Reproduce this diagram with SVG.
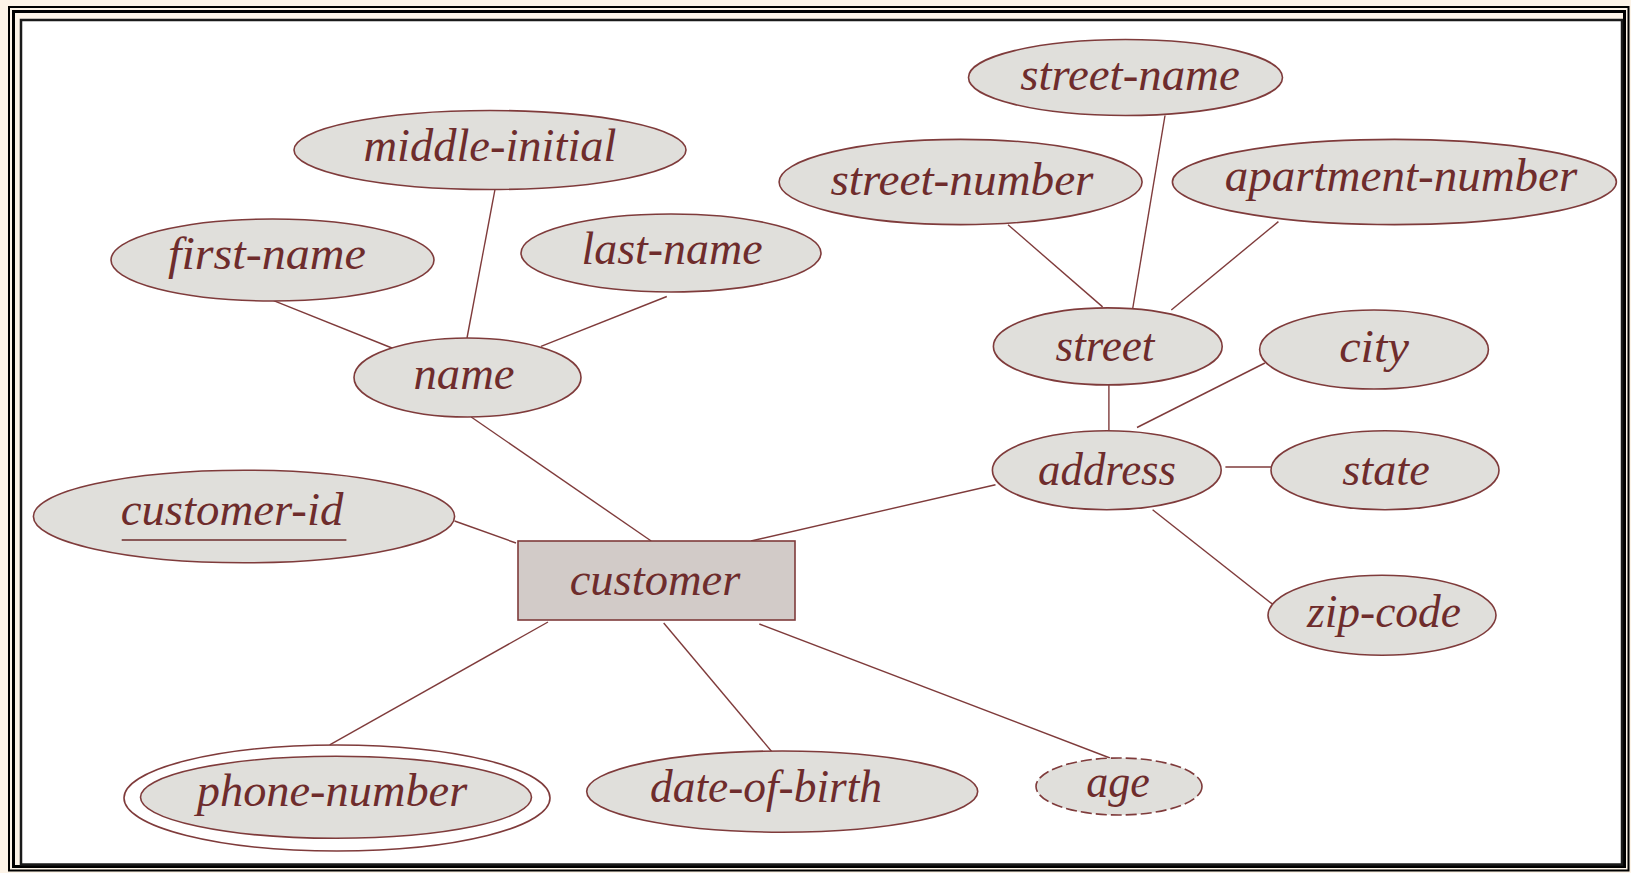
<svg xmlns="http://www.w3.org/2000/svg" width="1631" height="873" viewBox="0 0 1631 873">
<style>
.attr{fill:#e0dfdb;stroke:#7f3b3b;stroke-width:1.6}
.ent{fill:#d2cbc8;stroke:#7f3b3b;stroke-width:1.6}
.lbl{font-family:"Liberation Serif","Times New Roman",serif;font-style:italic;font-size:46px;fill:#6e2c2c;text-anchor:middle}
.conn line{stroke:#7f3b3b;stroke-width:1.4}
.frame{fill:none;stroke:#000}
</style>
<rect x="0" y="0" width="1631" height="873" fill="#fdf4e8"/>
<rect class="frame" x="9" y="7" width="1619.5" height="863.5" stroke-width="2"/>
<rect class="frame" x="13.5" y="11.5" width="1611" height="855" stroke-width="3"/>
<rect x="21" y="20" width="1601" height="844.5" fill="#ffffff" stroke="#1a1a1a" stroke-width="2.5"/>
<g class="conn" id="connectors">
<line x1="273.6" y1="300.6" x2="393.2" y2="348.5"/>
<line x1="495" y1="189.3" x2="467" y2="338"/>
<line x1="666.8" y1="296.5" x2="541" y2="346.4"/>
<line x1="471.2" y1="417" x2="651.2" y2="541"/>
<line x1="454.6" y1="521" x2="516" y2="543"/>
<line x1="751" y1="541" x2="995.5" y2="484.7"/>
<line x1="548" y1="622" x2="329.7" y2="744.8"/>
<line x1="663.7" y1="623" x2="772.9" y2="753"/>
<line x1="759.3" y1="624" x2="1110" y2="758"/>
<line x1="1008" y1="224.7" x2="1102.6" y2="306.9"/>
<line x1="1165" y1="115.5" x2="1132.8" y2="308"/>
<line x1="1278.4" y1="221.6" x2="1171.3" y2="310"/>
<line x1="1108.9" y1="385" x2="1108.9" y2="430.6"/>
<line x1="1264.9" y1="363" x2="1137" y2="427.5"/>
<line x1="1225.4" y1="467" x2="1271" y2="467"/>
<line x1="1152.6" y1="509.7" x2="1275.3" y2="606.4"/>
</g>
<g id="middle-initial"><ellipse class="attr" cx="490" cy="150" rx="196" ry="39.5"/><text class="lbl" x="490" y="161" textLength="253" lengthAdjust="spacingAndGlyphs">middle-initial</text></g>
<g id="first-name"><ellipse class="attr" cx="272.5" cy="260" rx="161.5" ry="41"/><text class="lbl" x="267" y="269" textLength="198" lengthAdjust="spacingAndGlyphs">first-name</text></g>
<g id="last-name"><ellipse class="attr" cx="671" cy="253" rx="150" ry="39"/><text class="lbl" x="672" y="264" textLength="181" lengthAdjust="spacingAndGlyphs">last-name</text></g>
<g id="name"><ellipse class="attr" cx="467.5" cy="377.5" rx="113.5" ry="39.5"/><text class="lbl" x="464" y="389" textLength="101" lengthAdjust="spacingAndGlyphs">name</text></g>
<g id="street-name"><ellipse class="attr" cx="1125.5" cy="77.5" rx="157" ry="38"/><text class="lbl" x="1130" y="89.5" textLength="219.5" lengthAdjust="spacingAndGlyphs">street-name</text></g>
<g id="street-number"><ellipse class="attr" cx="960.6" cy="182" rx="181.5" ry="42.6"/><text class="lbl" x="962" y="195" textLength="263" lengthAdjust="spacingAndGlyphs">street-number</text></g>
<g id="apartment-number"><ellipse class="attr" cx="1394.4" cy="182" rx="222" ry="42.6"/><text class="lbl" x="1401" y="191" textLength="352.6" lengthAdjust="spacingAndGlyphs">apartment-number</text></g>
<g id="street"><ellipse class="attr" cx="1107.8" cy="346.4" rx="114.4" ry="38.5"/><text class="lbl" x="1105" y="361" textLength="98.8" lengthAdjust="spacingAndGlyphs">street</text></g>
<g id="city"><ellipse class="attr" cx="1374" cy="349.5" rx="114.4" ry="39.5"/><text class="lbl" x="1374" y="362" textLength="69.7" lengthAdjust="spacingAndGlyphs">city</text></g>
<g id="address"><ellipse class="attr" cx="1106.8" cy="470.2" rx="114.4" ry="39.5"/><text class="lbl" x="1107" y="484.5" textLength="138" lengthAdjust="spacingAndGlyphs">address</text></g>
<g id="state"><ellipse class="attr" cx="1385" cy="470.2" rx="114" ry="39.5"/><text class="lbl" x="1386" y="484.5" textLength="87.4" lengthAdjust="spacingAndGlyphs">state</text></g>
<g id="zip-code"><ellipse class="attr" cx="1382" cy="615.3" rx="114" ry="40"/><text class="lbl" x="1384" y="627" textLength="154" lengthAdjust="spacingAndGlyphs">zip-code</text></g>
<g id="customer"><rect class="ent" x="518" y="541" width="277" height="79"/><text class="lbl" x="655" y="595" textLength="170.6" lengthAdjust="spacingAndGlyphs">customer</text></g>
<g id="customer-id"><ellipse class="attr" cx="244" cy="516.5" rx="210.6" ry="46.3"/><text class="lbl" x="232" y="525" textLength="222.6" lengthAdjust="spacingAndGlyphs">customer-id</text><line x1="121.7" y1="540" x2="346.4" y2="540" stroke="#6e2c2c" stroke-width="1.6"/></g>
<g id="phone-number"><ellipse cx="337" cy="798" rx="213" ry="53" fill="none" stroke="#7f3b3b" stroke-width="1.6"/><ellipse class="attr" cx="336" cy="797.3" rx="195.5" ry="41"/><text class="lbl" x="332" y="806" textLength="270.5" lengthAdjust="spacingAndGlyphs">phone-number</text></g>
<g id="date-of-birth"><ellipse class="attr" cx="782.2" cy="791.6" rx="195.5" ry="40.6"/><text class="lbl" x="766" y="802" textLength="232" lengthAdjust="spacingAndGlyphs">date-of-birth</text></g>
<g id="age"><ellipse class="attr" cx="1119" cy="786.5" rx="83" ry="28.5" stroke-dasharray="11,4"/><text class="lbl" x="1118" y="797" textLength="63.5" lengthAdjust="spacingAndGlyphs">age</text></g>
</svg>
